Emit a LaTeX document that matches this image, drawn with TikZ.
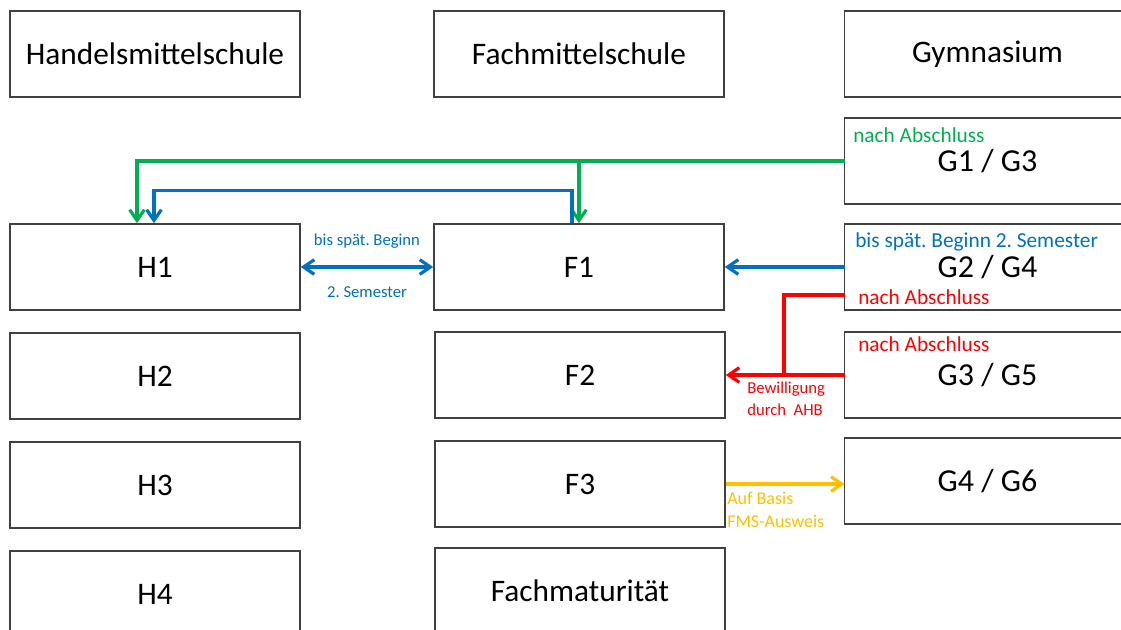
\documentclass[tikz,border=0pt]{standalone}
\usepackage{fontspec}
\setmainfont{Carlito}
\usetikzlibrary{arrows.meta}
\definecolor{gruen}{RGB}{0,176,80}
\definecolor{blau}{RGB}{0,112,192}
\definecolor{rot}{RGB}{255,0,0}
\definecolor{gelb}{RGB}{255,192,0}
\frenchspacing

\begin{document}
\begin{tikzpicture}[x=0.75pt,y=-0.75pt,
  every node/.style={font=\fontsize{23.5}{26}\selectfont},
  boxline/.style={draw=black!75,line width=1.2pt},
  box/.style={boxline,minimum width=217.5pt,minimum height=64.5pt,inner sep=0pt},
  gbox/.style={minimum width=214pt,minimum height=64.5pt,inner sep=0pt,font=\fontsize{24}{27}\selectfont},
  tip/.tip={Straight Barb[length=8pt,width=11pt]},
  arr/.style={line width=2.4pt,-tip},
  lbl/.style={anchor=west,inner sep=0pt,font=\fontsize{12.5}{14}\selectfont},
  glbl/.style={anchor=west,inner sep=0pt,font=\fontsize{16}{18}\selectfont}]
  \useasboundingbox (0,0) rectangle (1121,629);
  \clip (0,0) rectangle (1121,629);
  \node[box] (hms) at (155,54) {Handelsmittelschule};
  \node[box] (fms) at (579,54) {Fachmittelschule};
  \node[gbox,font=\fontsize{23.5}{26}\selectfont] (gym) at (987.5,54) {Gymnasium};
  \foreach[count=\cnt, evaluate=\cnt as \yy using {158+109*\cnt}]
    \hname in {H1,H2,H3,H4} { \node[box] (h\cnt) at (155,\yy) {\hname}; }
  \node[box] (f1) at (579,267) {F1};
  \node[box] (f2) at (580,375) {F2};
  \node[box] (f3) at (580,484) {F3};
  \node[box] (fm) at (580,591) {Fachmaturität};
  \node[gbox] (g13) at (987.5,161) {G1 / G3};
  \node[gbox] (g24) at (987.5,267) {G2 / G4};
  \node[gbox] (g35) at (987.5,375) {G3 / G5};
  \node[gbox] (g46) at (987.5,481) {G4 / G6};
  \foreach \g in {gym,g13,g24,g35,g46}
    \draw[boxline] (\g.north east) -- (\g.north west) -- (\g.south west) -- (\g.south east);
  \node[glbl,text=gruen] (g13t) at (853,135) {nach Abschluss};
  \node[glbl,text=blau] (g24t) at (855,242) {bis spät. Beginn 2. Semester};
  \node[glbl,text=rot] (g24r) at (858,297) {nach Abschluss};
  \node[glbl,text=rot] (g35t) at (858,344) {nach Abschluss};

  \coordinate (gab) at (f1.north |- g13.west);
  \draw[arr,gruen] (g13.west) -| ([xshift=-13.5pt]h1.north);
  \draw[arr,gruen] (gab) -- (f1.north);
  \draw[arr,blau] ([xshift=-5.25pt]f1.north) -- ++(0,-33) -| ([xshift=-0.75pt]h1.north);
  \draw[arr,blau,tip-tip] (h1.east) -- (f1.west)
    node[midway,yshift=19.5pt,text=blau,font=\fontsize{12.5}{14}\selectfont] (bis) {bis spät. Beginn}
    node[midway,yshift=-19pt,text=blau,font=\fontsize{12.5}{14}\selectfont] (sem) {2. Semester};
  \draw[arr,blau] (g24.west) -- (f1.east);
  \coordinate (rk) at (784,375);
  \draw[line width=2.4pt,rot] ([yshift=-21pt]g24.west) -| (rk);
  \draw[arr,rot] (g35.west) -- (f2.east);
  \node[lbl,text=rot] (bew) at (747,389) {Bewilligung};
  \node[lbl,text=rot] (ahb) at (747,410) {durch\ \ AHB};
  \draw[arr,gelb] (f3.east) -- (f3.east -| g46.west);
  \node[lbl,text=gelb,font=\fontsize{13.5}{15}\selectfont] (auf) at (727,498) {Auf Basis};
  \node[lbl,text=gelb,font=\fontsize{13.5}{15}\selectfont] (aus) at (727,521) {FMS-Ausweis};
\end{tikzpicture}
\end{document}
